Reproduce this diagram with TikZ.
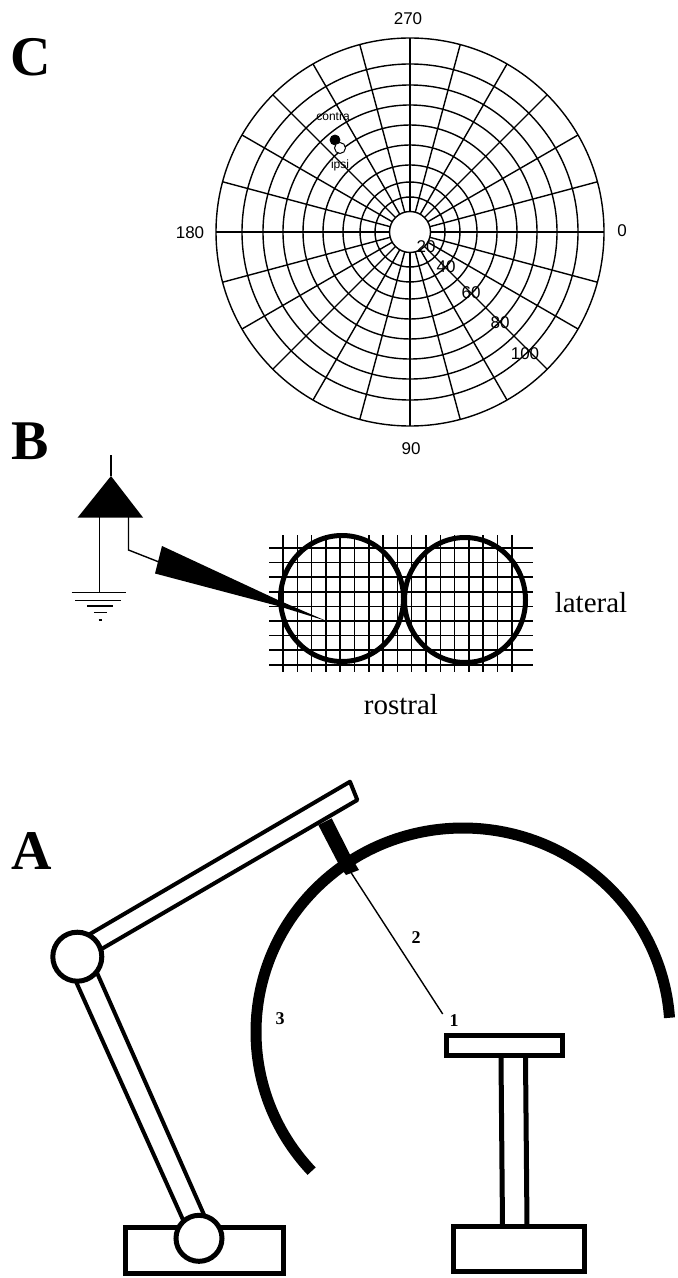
\documentclass[tikz,border=0pt]{standalone}
\usepackage{fontspec}
\setmainfont{Liberation Serif}
\newfontfamily\helv{Liberation Sans}
\usepackage{tikz}
\usetikzlibrary{positioning, shapes}

\tikzset{
    paneltag/.style={inner sep=0pt, font=\fontsize{28}{30}\selectfont\bfseries},
    polartext/.style={inner sep=0pt, font=\helv\fontsize{8.5}{10}\selectfont},
    smalltext/.style={inner sep=0pt, font=\helv\fontsize{6}{7}\selectfont},
    romantext/.style={inner sep=0pt, font=\fontsize{14.5}{16}\selectfont},
    armnumber/.style={inner sep=0pt, font=\fontsize{9}{10}\selectfont\bfseries},
    polarline/.style={line width=0.7pt},
    gridline/.style={line width=0.75pt},
    armline/.style={line width=2pt, fill=white, line join=round},
    joint/.style={draw, circle, line width=2.5pt, fill=white, inner sep=0pt},
    block/.style={draw, rectangle, line width=2.5pt, fill=white, inner sep=0pt}
}

\begin{document}
\begin{tikzpicture}[x=0.5pt, y=-0.5pt]
        \useasboundingbox (0,0) rectangle (677,1278);

        % Panel tags
        \node (tagc) [paneltag] at (31,57) {C};
        \node (tagb) [paneltag] at (30,441) {B};
        \node (taga) [paneltag] at (32,851) {A};

        % Polar plot
        \coordinate (polar) at (410,232);
        \foreach \rad in {35,50,67,87,107,127,147,168,194}
            \draw[polarline] (polar) circle [radius=\rad];
        \foreach \ang in {0,15,...,345}
            \draw[polarline] ([shift={(\ang:20.5)}]polar) -- ([shift={(\ang:194)}]polar);
        \node (hub) [draw, circle, polarline, fill=white, minimum size=20.5pt, inner sep=0pt] at (polar) {};

        % Polar labels
        \node (top) [polartext] at (408,19) {270};
        \node (right) [polartext] at (622,231) {0};
        \node (left) [polartext] at (190,233) {180};
        \node (bottom) [polartext] at (411,449) {90};
        \node (ring20) [polartext] at (426,247) {20};
        \node (ring40) [polartext] at (446,267) {40};
        \node (ring60) [polartext] at (471,293) {60};
        \node (ring80) [polartext] at (500,323) {80};
        \node (ring100) [polartext] at (525,354) {100};

        % Data points
        \node (contra) [smalltext] at (333,117) {contra};
        \node (ipsi) [smalltext] at (340,165) {ipsi};
        \node (contradot) [draw, circle, fill=black, minimum size=5pt, inner sep=0pt] at (335,140) {};
        \node (ipsidot) [draw, circle, line width=0.5pt, fill=white, minimum size=5.5pt, inner sep=0pt] at (340,148) {};

        % Recording grid
        \foreach \i in {0,...,16}
            \draw[gridline] ({283+14.3*\i},535) -- ({283+14.3*\i},672);
        \foreach \j in {0,...,8}
            \draw[gridline] (269,{548+14.6*\j}) -- (533,{548+14.6*\j});

        % Recording wells
        \draw[line width=2.5pt] (342,598.5) ellipse [x radius=61.5, y radius=63];
        \draw[line width=2.5pt] (465,600) ellipse [x radius=60.5, y radius=62.5];

        % Amplifier
        \coordinate (ampin) at (111,455);
        \coordinate (apex) at (111,476);
        \coordinate (ampleft) at (99.6,517);
        \coordinate (ampright) at (128.5,517);
        \coordinate (wirebend) at (128.5,550);
        \coordinate (earth) at (99.6,592.5);
        \coordinate (pipette) at (159,562);
        \fill (apex) -- (143,517.5) -- (77.7,517.5) -- cycle;
        \draw[polarline] (ampin) -- (apex);
        \draw[polarline] (ampleft) -- (earth);
        \draw[polarline] (ampright) -- (wirebend) -- (pipette);

        % Ground symbol
        \draw[polarline] (71.5,592.5) -- (126,592.5);
        \draw[polarline] (75.4,600.5) -- (120.8,600.5);
        \draw[polarline] (87,606) -- (113,606);
        \draw[polarline] (93.8,612.5) -- (107,612.5);
        \draw[polarline] (98.5,620) -- (102.3,620);

        % Electrode
        \fill (162,546) -- (155,573.5) -- (278,606) -- (326.5,621) -- (278,600) -- cycle;

        \node (lateral) [romantext] at (591,603) {lateral};
        \node (rostral) [romantext] at (401,705) {rostral};

        % Thick arc
        \coordinate (arccentre) at (463,1032);
        \draw[line width=5.5pt] ([shift={(137:207 and 204)}]arccentre) arc [start angle=137, end angle=356, x radius=207, y radius=204];

        % Lower and upper arm
        \draw[armline] (73,975) -- (184,1222) -- (205,1217) -- (94,966) -- cycle;
        \draw[armline] (87.4,935.5) -- (350,781.7) -- (357.3,800) -- (99,950.5) -- cycle;

        % Carrier on the arc
        \fill (318.3,825) -- (331.7,818.3) -- (351.7,858) -- (359,870) -- (346,875) -- (340,866.7) -- cycle;

        % Base and joints
        \node (armbase) [block, minimum width=79pt, minimum height=23pt] at (204.5,1250) {};
        \node (elbow) [joint, minimum size=24.5pt] at (77.3,956.7) {};
        \node (shoulder) [joint, minimum size=23pt] at (199,1238.3) {};

        % Radius line and numbers
        \coordinate (arcpoint) at (350,871);
        \coordinate (focus) at (442.7,1014);
        \draw[polarline] (arcpoint) -- (focus);
        \node (one) [armnumber] at (454,1021) {1};
        \node (two) [armnumber] at (416,938) {2};
        \node (three) [armnumber] at (280,1019) {3};

        % Animal stand
        \draw[line width=2.5pt] (501,1058) -- (502.5,1226);
        \draw[line width=2.5pt] (525.5,1058) -- (527,1226);
        \node (plate) [block, minimum width=58pt, minimum height=10pt] at (504.7,1045.8) {};
        \node (standbase) [block, minimum width=65.5pt, minimum height=22.5pt] at (518.5,1249) {};
    \end{tikzpicture}
\end{document}
